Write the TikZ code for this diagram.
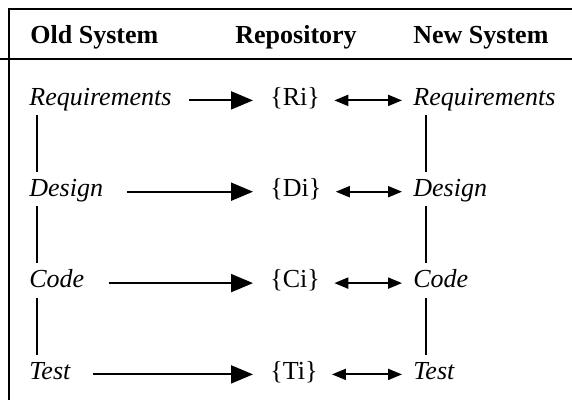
\documentclass[tikz,border=0pt]{standalone}
\usepackage{fontspec}
\setmainfont{Liberation Serif}
\usepackage{tikz}
\usetikzlibrary{arrows.meta}

\begin{document}
\begin{tikzpicture}[
            x=0.5pt, y=-0.5pt,
            every node/.style={inner sep=0pt, anchor=base west, text height=0.68em, text depth=0.2em},
            head/.style={font=\fontsize{13}{15}\selectfont\bfseries},
            phase/.style={font=\fontsize{13}{15}\selectfont\itshape},
            item/.style={font=\fontsize{13}{15}\selectfont},
            frame/.style={line width=1pt},
            link/.style={line width=1pt},
            flow/.style={-{Triangle[length=11pt, width=9pt]}, line width=1pt, shorten <=#1, shorten >=8.5pt},
            flow/.default=12pt,
            sync/.style={{Triangle[length=7pt, width=5.5pt]}-{Triangle[length=7pt, width=5.5pt]}, line width=1pt, shorten <=7pt, shorten >=5.5pt},
        ]
            \useasboundingbox (0,0) rectangle (572,400);
            % frame
            \draw[frame] (572,9) -- (9,9) -- (9,400);
            \draw[frame] (0,59.5) -- (572,59.5);

            % headers
            \node[head] (hold) at (30,44) {Old System};
            \node[head] (hrep) at (235,44) {Repository};
            \node[head] (hnew) at (413,44) {New System};

            % old system
            \node[phase] (oreq) at (29,105.2) {Requirements};
            \node[phase] (odes) at (29,196.5) {Design};
            \node[phase] (ocod) at (29,287.9) {Code};
            \node[phase] (otst) at (29,379.2) {Test};

            % repository
            \node[item] (ri) at (270,105.2) {\{Ri\}};
            \node[item] (di) at (270,196.5) {\{Di\}};
            \node[item] (ci) at (270,287.9) {\{Ci\}};
            \node[item] (ti) at (270,379.2) {\{Ti\}};

            % new system
            \node[phase] (nreq) at (413,105.2) {Requirements};
            \node[phase] (ndes) at (413,196.5) {Design};
            \node[phase] (ncod) at (413,287.9) {Code};
            \node[phase] (ntst) at (413,379.2) {Test};

            \draw[flow=8.5pt] (oreq) -- (ri);
            \draw[flow] (odes) -- (di);
            \draw[flow] (ocod) -- (ci);
            \draw[flow=11pt] (otst) -- (ti);

            \draw[sync] (ri) -- (nreq);
            \draw[sync] (di) -- (ndes);
            \draw[sync] (ci) -- (ncod);
            \draw[sync] (ti) -- (ntst);

            \draw[link] ([shift={(7.7,5.6)}]oreq.south west) -- ([shift={(7.7,-10.5)}]odes.north west);
            \draw[link] ([shift={(7.7,5.6)}]odes.south west) -- ([shift={(7.7,-10.5)}]ocod.north west);
            \draw[link] ([shift={(7.7,5.6)}]ocod.south west) -- ([shift={(7.7,-10.5)}]otst.north west);
            \draw[link] ([shift={(13,5.6)}]nreq.south west) -- ([shift={(13,-10.5)}]ndes.north west);
            \draw[link] ([shift={(13,5.6)}]ndes.south west) -- ([shift={(13,-10.5)}]ncod.north west);
            \draw[link] ([shift={(13,5.6)}]ncod.south west) -- ([shift={(13,-10.5)}]ntst.north west);
        \end{tikzpicture}
\end{document}
